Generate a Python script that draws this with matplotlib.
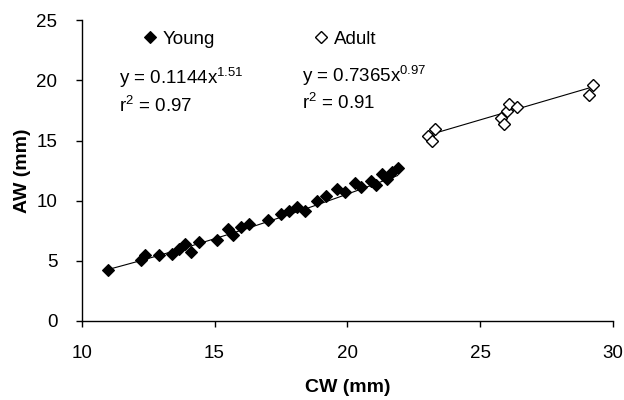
import matplotlib.pyplot as plt
import numpy as np

plt.rcParams['font.family'] = ['Liberation Sans', 'DejaVu Sans']

# young crabs
young_cw = [11.0, 12.25, 12.4, 12.9, 13.4, 13.65, 13.9, 14.1, 14.4, 15.1, 15.5, 15.7,
            16.0, 16.3, 17.0, 17.5, 17.8, 18.1, 18.4, 18.85, 19.2, 19.6, 19.9, 20.3,
            20.5, 20.9, 21.1, 21.3, 21.5, 21.7, 21.9]
young_aw = [4.2, 5.05, 5.45, 5.5, 5.6, 6.0, 6.35, 5.75, 6.55, 6.7, 7.6, 7.1,
            7.8, 8.05, 8.4, 8.85, 9.15, 9.5, 9.1, 10.0, 10.4, 11.0, 10.7, 11.5,
            11.1, 11.6, 11.3, 12.2, 11.8, 12.4, 12.75]

# adult crabs
adult_cw = [23.05, 23.2, 23.3, 25.8, 25.9, 26.0, 26.1, 26.4, 29.1, 29.25]
adult_aw = [15.4, 14.95, 15.95, 16.9, 16.4, 17.5, 18.05, 17.8, 18.75, 19.6]

# power trendlines y = a * x^b
young_a, young_b, young_r2 = 0.1144, 1.51, 0.97
adult_a, adult_b, adult_r2 = 0.7365, 0.97, 0.91

fs = 13.5

fig = plt.figure(figsize=(6.24, 4.0), dpi=100)
ax = fig.add_axes([0.131, 0.198, 0.851, 0.751])

xy = np.linspace(min(young_cw), max(young_cw), 50)
ax.plot(xy, young_a * xy ** young_b, color='black', lw=0.8, zorder=1)
xa = np.linspace(min(adult_cw), max(adult_cw), 50)
ax.plot(xa, adult_a * xa ** adult_b, color='black', lw=0.8, zorder=1)

ax.plot(young_cw, young_aw, 'D', ms=6.6, mfc='black', mec='black', mew=0.8,
        ls='none', label='Young', zorder=2)
ax.plot(adult_cw, adult_aw, 'D', ms=6.2, mfc='white', mec='black', mew=1.0,
        ls='none', label='Adult', zorder=2)

ax.set_xlim(10, 30)
ax.set_ylim(0, 25)
ax.set_xticks([10, 15, 20, 25, 30])
ax.set_yticks([0, 5, 10, 15, 20, 25])
ax.tick_params(direction='out', length=4.5, width=1, labelsize=fs, pad=13)
for s in ['top', 'right']:
    ax.spines[s].set_visible(False)
for s in ['left', 'bottom']:
    ax.spines[s].set_linewidth(1)

ax.set_xlabel('CW (mm)', fontsize=14, fontweight='bold', va='center')
ax.set_ylabel('AW (mm)', fontsize=14, fontweight='bold', va='center')
ax.xaxis.set_label_coords(0.5, -0.221)
ax.yaxis.set_label_coords(-0.112, 0.5)

leg = ax.legend(loc='center left', bbox_to_anchor=(0.115, 0.938), ncol=2, frameon=False,
                fontsize=fs, handlelength=0.8, handletextpad=0.27, columnspacing=5.25,
                borderpad=0, borderaxespad=0, markerscale=0.95)

ax.text(0.070, 0.808, 'y = %.4fx$^{\\mathregular{%.2f}}$' % (young_a, young_b),
        transform=ax.transAxes, fontsize=fs, va='center')
ax.text(0.070, 0.715, 'r$^{\\mathregular{2}}$ = %.2f' % young_r2,
        transform=ax.transAxes, fontsize=fs, va='center')
ax.text(0.415, 0.815, 'y = %.4fx$^{\\mathregular{%.2f}}$' % (adult_a, adult_b),
        transform=ax.transAxes, fontsize=fs, va='center')
ax.text(0.415, 0.728, 'r$^{\\mathregular{2}}$ = %.2f' % adult_r2,
        transform=ax.transAxes, fontsize=fs, va='center')

fig.savefig('out.png', dpi=100)
